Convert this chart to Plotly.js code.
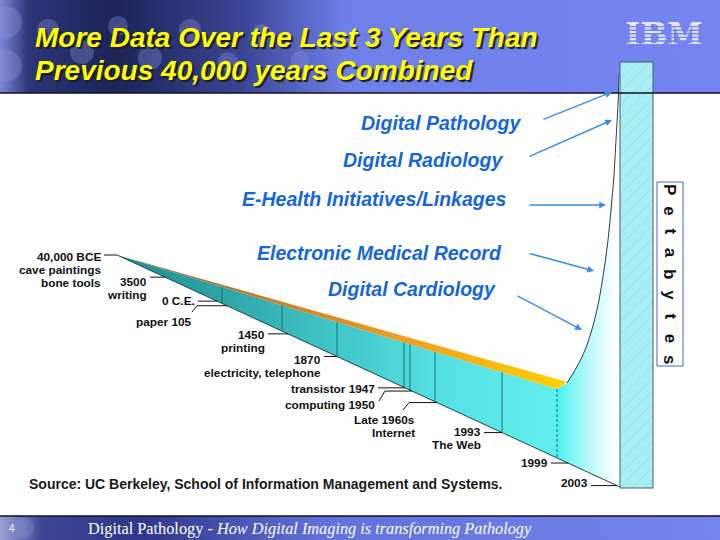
<!DOCTYPE html>
<html><head><meta charset="utf-8">
<script src="https://cdn.plot.ly/plotly-3.0.1.min.js"></script>
<style>html,body{margin:0;padding:0;background:#fff}#chart{width:720px;height:540px}</style>
</head><body><div id="chart"></div>
<script>
// ---------------- data ----------------
const titleLines = ['More Data Over the Last 3 Years Than', 'Previous 40,000 years Combined'];
const eventTitles = ['40,000 BCE','3500','0 C.E.','paper 105','1450','1870','transistor 1947','computing 1950','Late 1960s','1993','1999','2003'];
const eventNotes  = [['cave paintings','bone tools'],['writing'],[],[],['printing'],['electricity, telephone'],[],[],['Internet'],['The Web'],[],[]];
const eventTickX  = [117,165,217,227,288,337,405,412,437,502,568,617];   // where each event meets the timeline
const dividerX    = [222,282,337,404,410,435,502];                      // era dividers on the wedge face
const growthX = [567,575,582,588,594,599,604,608,611,614,616,618,619];   // the data explosion curve
const growthY = [383,370,357,342,322,300,270,240,210,175,140,105,75];
const driverLabels = ['Digital Pathology','Digital Radiology','E-Health Initiatives/Linkages','Electronic Medical Record','Digital Cardiology'];
const unitLetters = ['P','e','t','a','b','y','t','e','s'];
const sourceText = 'Source: UC Berkeley, School of Information Management and Systems.';
const footerText = 'Digital Pathology - <i>How Digital Imaging is transforming Pathology</i>';
const pageNumber = '4';

// ---------------- layout helpers ----------------
const labelRight = [102,148,196,193,266,322,376,376,416,482,549,589];
const labelY     = [257,282,301,322,335,360,389,405,420,432,463,483];
const leaderBend = {3:[192,312,197], 7:[379,401,385], 8:[403,410,409]};
const driverRight = [523,505,509,504,498];
const driverY     = [123,160,199,253,289];
const arrowTail = [[542,120],[528,157],[528,205],[528,253],[516,295]];
const arrowHead = [[612,92],[612,120],[606,205],[594,271],[582,330]];

function yb(x){return 255 + (487-255)*(x-117)/(620-117);}   // lower edge of wedge
function yt(x){return 255 + (389-255)*(x-117)/(557-117);}   // top of front face
const SANS = 'Liberation Sans, Arial, sans-serif';

const traces = [];
function poly(xs, ys, o){ return Object.assign({type:'scatter', mode:'lines', x:xs, y:ys, fill:'toself', line:{width:0}, hoverinfo:'skip'}, o); }

// header banner
traces.push(poly([0,720,720,0,0],[0,0,93,93,0],{fillgradient:{type:'horizontal',start:0,stop:720,colorscale:[[0,'#7a88d8'],[0.04,'#2c3478'],[0.16,'#1c2458'],[0.34,'#3a4696'],[0.48,'#6f7fea'],[1,'#7484f0']]}}));
// footer banner
traces.push(poly([0,720,720,0,0],[516,516,540,540,516],{fillgradient:{type:'horizontal',start:0,stop:720,colorscale:[[0,'#9aa2d4'],[0.06,'#3c4494'],[0.2,'#2e3788'],[0.45,'#6272dc'],[1,'#7484f0']]}}));
// wedge front face
traces.push(poly([117,557,557,117],[255,yt(557),yb(557),255],{fillgradient:{type:'horizontal',start:117,stop:557,colorscale:[[0,'#1f8c8e'],[0.25,'#2ea6a8'],[0.5,'#42c6c8'],[0.75,'#56e2e4'],[1,'#62eeee']]}}));
// wedge top strip
traces.push(poly([117,567,557,117],[255,382,yt(557),255],{fillgradient:{type:'horizontal',start:117,stop:567,colorscale:[[0,'#6a7a5a'],[0.3,'#c47a2c'],[0.65,'#f0a020'],[1,'#ffd200']]}}));
// explosion region
traces.push(poly([557].concat(growthX,[620,620,557]),[yt(557)].concat(growthY,[75,487,yb(557)]),{fillgradient:{type:'horizontal',start:557,stop:617,colorscale:[[0,'#4cf0f0'],[0.5,'#b4f8f8'],[1,'#ffffff']]}}));
// dividers
const dx=[],dy=[];
dividerX.forEach(d=>{dx.push(d,d,null);dy.push(yt(d),yb(d),null);});
traces.push({type:'scatter',mode:'lines',x:dx,y:dy,line:{color:'#167474',width:1},hoverinfo:'skip'});
traces.push({type:'scatter',mode:'lines',x:[557,557],y:[yt(557),yb(557)],line:{color:'#167474',width:1,dash:'3px,2px'},hoverinfo:'skip'});
// lower edge
traces.push({type:'scatter',mode:'lines',x:[117,620],y:[255,487],line:{color:'#1c4656',width:1},hoverinfo:'skip'});
// growth curve
traces.push({type:'scatter',mode:'lines',x:growthX,y:growthY,line:{color:'#2a3a44',width:1,shape:'spline',smoothing:0.8},hoverinfo:'skip'});
// petabyte bar
traces.push(poly([620,653,653,620,620],[62,62,488,488,62],{fillcolor:'#a8eef2',fillpattern:{shape:'/',bgcolor:'#a8eef2',fgcolor:'#8ad8de',size:9,solidity:0.08},line:{color:'#3c5e6e',width:1}}));
// petabytes box
traces.push(poly([657,683,683,657,657],[182,182,366,366,182],{fill:'none',line:{color:'#3a6ab0',width:1}}));
// leaders
const lx=[],ly=[];
eventTickX.forEach((t,i)=>{
  const y=yb(t);
  if(leaderBend[i]){const b=leaderBend[i];lx.push(b[0],b[2],t,null);ly.push(b[1],y,y,null);}
  else {lx.push(labelRight[i]+2,t,null);ly.push(y,y,null);}
});
traces.push({type:'scatter',mode:'lines',x:lx,y:ly,line:{color:'#111',width:1},hoverinfo:'skip'});
// IBM logo text
traces.push({type:'scatter',mode:'text',x:[664],y:[37],text:['IBM'],textfont:{family:'DejaVu Serif',size:32,color:'#e4e8f6',weight:'bold'},hoverinfo:'skip'});

// ---------------- annotations ----------------
const ann=[];
function txt(x,y,t,o){ann.push(Object.assign({x:x,y:y,xref:'x',yref:'y',text:t,showarrow:false,yanchor:'middle',xanchor:'left'},o));}
titleLines.forEach((t,i)=>{
  txt(33,37+33*i,t,{font:{family:SANS,size:28,color:'#ffff00',weight:'bold',style:'italic',shadow:'2px 2px 1px #1a1a30'}});
});
eventTitles.forEach((t,i)=>{
  const lines=[t].concat(eventNotes[i]);
  lines.forEach((l,k)=>txt(labelRight[i],labelY[i]+13.2*k,l,{xanchor:'right',borderpad:0,font:{family:SANS,size:11.8,color:'#111',weight:'bold'}}));
});
driverLabels.forEach((t,i)=>txt(driverRight[i],driverY[i],t,{xanchor:'right',font:{family:SANS,size:19.5,color:'#1566d6',weight:'bold',style:'italic'}}));
driverLabels.forEach((t,i)=>ann.push({x:arrowHead[i][0],y:arrowHead[i][1],ax:arrowTail[i][0],ay:arrowTail[i][1],xref:'x',yref:'y',axref:'x',ayref:'y',text:'',showarrow:true,arrowhead:2,arrowsize:0.9,arrowwidth:1.5,arrowcolor:'#3a8ee2'}));
unitLetters.forEach((c,i)=>txt(670,189+i*21.25,c,{xanchor:'center',textangle:90,font:{family:SANS,size:17,color:'#111',weight:'bold'}}));
txt(27,484,sourceText,{font:{family:SANS,size:14,color:'#1a1a1a',weight:'bold'}});
txt(86,528,footerText,{font:{family:'Liberation Serif, Times New Roman, serif',size:16.3,color:'#ffffff'}});
txt(7,528,pageNumber,{font:{family:SANS,size:10,color:'#ffffff'}});

// ---------------- shapes ----------------
const shapes=[
  {type:'line',xref:'x',yref:'y',x0:0,x1:720,y0:93,y1:93,line:{color:'#101020',width:1.5},layer:'above'},
  {type:'line',xref:'x',yref:'y',x0:0,x1:720,y0:516,y1:516,line:{color:'#101020',width:1.5},layer:'above'}
];
for(let k=1;k<8;k++){shapes.push({type:'line',xref:'x',yref:'y',x0:622,x1:706,y0:23+3.6*k,y1:23+3.6*k,line:{color:'#7484f0',width:1.4},layer:'above'});}
const blobs=[[6,22,16],[6,66,16],[48,30,11],[82,52,12],[118,26,10],[150,58,12],[190,30,11],[228,62,10],[262,34,10],[300,60,9],[24,528,10]];
blobs.forEach(b=>shapes.push({type:'circle',xref:'x',yref:'y',x0:b[0]-b[2],x1:b[0]+b[2],y0:b[1]-b[2],y1:b[1]+b[2],fillcolor:'rgba(140,150,220,0.35)',line:{width:0},layer:'above'}));

const layout={width:720,height:540,margin:{l:0,r:0,t:0,b:0},showlegend:false,
  paper_bgcolor:'#ffffff',plot_bgcolor:'#ffffff',
  xaxis:{range:[0,720],visible:false,fixedrange:true},
  yaxis:{range:[540,0],visible:false,fixedrange:true},
  annotations:ann,shapes:shapes};
Plotly.newPlot('chart',traces,layout,{staticPlot:true,displayModeBar:false});
</script></body></html>
